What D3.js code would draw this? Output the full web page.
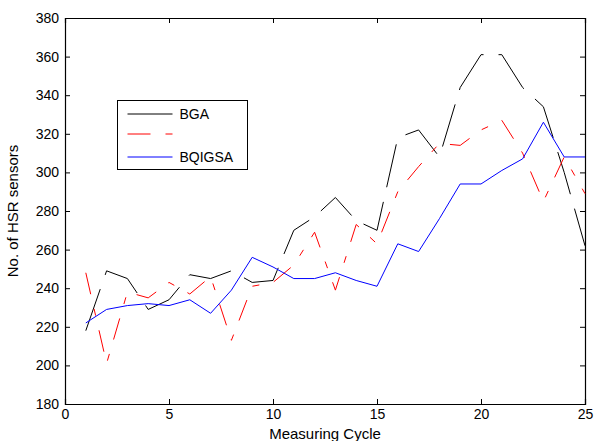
<!DOCTYPE html>
<html>
<head>
<meta charset="utf-8">
<script src="https://cdn.jsdelivr.net/npm/d3@7"></script>
<style>
  body { margin: 0; background: #fff; }
  svg { display: block; font-family: "Liberation Sans", Arial, sans-serif; }
</style>
</head>
<body>
<div class="chart"></div>
<script>
// measuring cycles 1..25
var cycles = d3.range(1, 26);
var bga    = [218, 249, 245, 229, 234, 247, 245, 249, 243, 244, 270, 277, 287, 275, 270, 318, 322, 308, 344, 361, 361, 344, 334, 300, 262];
var second = [248, 201, 238, 235, 243, 237, 246, 213, 241, 243, 252, 269, 239, 273, 263, 290, 303, 315, 314, 322, 327, 310, 285, 308, 289];
var bqigsa = [222, 229, 231, 232, 231, 234, 227, 239, 256, 251, 245, 245, 248, 244, 241, 263, 259, 276, 294, 294, 301, 307, 326, 308, 308];
var xTicks = [0, 5, 10, 15, 20, 25];
var yTicks = [180, 200, 220, 240, 260, 280, 300, 320, 340, 360, 380];
var seriesNames = ["BGA", "", "BQIGSA"];

drawChart();

function drawChart(){
    var w = 595, h = 441;
    var margin = {top: 18, right: 10, bottom: 37, left: 65};

    var svg = d3.select("div.chart")
        .append("svg")
        .attr("width", w)
        .attr("height", h);

    var x = d3.scaleLinear().domain([0, 25]).range([margin.left, w - margin.right]);
    var y = d3.scaleLinear().domain([180, 380]).range([h - margin.bottom, margin.top]);

    // axes, matlab style ticks pointing inward
    var gx = svg.append("g")
        .attr("transform", "translate(0," + (h - margin.bottom) + ")")
        .call(d3.axisBottom(x).tickValues(xTicks).tickSize(-5).tickPadding(5));
    var gy = svg.append("g")
        .attr("transform", "translate(" + margin.left + ",0)")
        .call(d3.axisLeft(y).tickValues(yTicks).tickSize(-5).tickPadding(6));
    var gt = svg.append("g")
        .attr("transform", "translate(0," + margin.top + ")")
        .call(d3.axisTop(x).tickValues(xTicks).tickSize(-5).tickFormat(""));
    var gr = svg.append("g")
        .attr("transform", "translate(" + (w - margin.right) + ",0)")
        .call(d3.axisRight(y).tickValues(yTicks).tickSize(-5).tickFormat(""));

    [gx, gy, gt, gr].forEach(function(g){
        g.selectAll("path.domain").attr("stroke", "#000").attr("stroke-width", 1.2);
        g.selectAll(".tick line").attr("stroke", "#000");
        g.selectAll(".tick text").attr("font-size", 14).attr("fill", "#000")
            .attr("font-family", "Liberation Sans, Arial, sans-serif");
    });

    var line = d3.line()
        .x(function(d, i){ return x(cycles[i]); })
        .y(function(d){ return y(d); });

    svg.append("path")
        .datum(bga)
        .attr("d", line)
        .attr("fill", "none")
        .attr("stroke", "#000")
        .attr("stroke-width", 1)
        .attr("stroke-dasharray", "44,15");

    svg.append("path")
        .datum(second)
        .attr("d", line)
        .attr("fill", "none")
        .attr("stroke", "#ff0000")
        .attr("stroke-width", 1)
        .attr("stroke-dasharray", "22,15,7,15");

    svg.append("path")
        .datum(bqigsa)
        .attr("d", line)
        .attr("fill", "none")
        .attr("stroke", "#0000ff")
        .attr("stroke-width", 1);

    // axis titles
    svg.append("text")
        .attr("x", (margin.left + w - margin.right) / 2)
        .attr("y", 439)
        .attr("text-anchor", "middle")
        .attr("font-size", 15)
        .text("Measuring Cycle");

    svg.append("text")
        .attr("transform", "translate(18," + ((margin.top + h - margin.bottom) / 2) + ") rotate(-90)")
        .attr("text-anchor", "middle")
        .attr("font-size", 15)
        .text("No. of HSR sensors");

    // legend
    var legend = svg.append("g").attr("transform", "translate(117.5,100.5)");
    legend.append("rect")
        .attr("width", 130)
        .attr("height", 69)
        .attr("fill", "#fff")
        .attr("stroke", "#000");

    var legColors = ["#000", "#ff0000", "#0000ff"];
    var legDash = [null, "23,15,7,15", null];
    var legY = [13.5, 33.5, 56.5];

    seriesNames.forEach(function(name, i){
        legend.append("line")
            .attr("x1", 10).attr("x2", 55)
            .attr("y1", legY[i]).attr("y2", legY[i])
            .attr("stroke", legColors[i])
            .attr("stroke-dasharray", legDash[i]);
        legend.append("text")
            .attr("x", 62)
            .attr("y", legY[i] + 5)
            .attr("font-size", 14)
            .text(name);
    });
}
</script>
</body>
</html>
